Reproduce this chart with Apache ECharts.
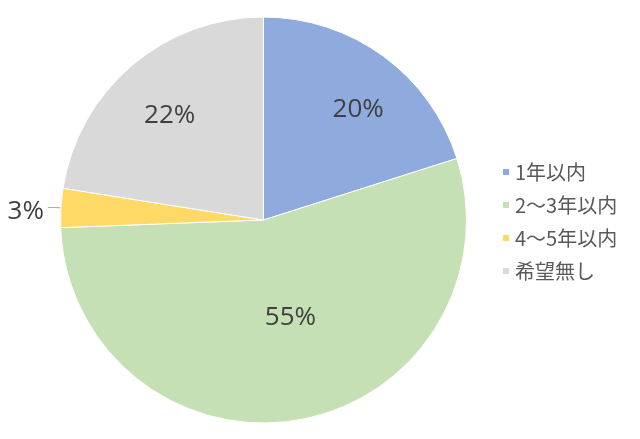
<!DOCTYPE html>
<html>
<head>
<meta charset="utf-8">
<script src="https://cdn.jsdelivr.net/npm/echarts@6/dist/echarts.min.js"></script>
<style>
html,body{margin:0;padding:0;background:#fff;}
#chart{width:640px;height:439px;}
</style>
</head>
<body>
<div id="chart"></div>
<script>
var categories = ['1年以内', '2～3年以内', '4～5年以内', '希望無し'];
var values = [20.1, 54.3, 3.1, 22.5];
var labelTexts = ['20%', '55%', '3%', '22%'];
var colors = ['#8FAADC', '#C5E0B4', '#FFD966', '#D9D9D9'];
var labelOffsets = [[33, -26], [9, -5], [0, 4], [-26, -25]];

var chart = echarts.init(document.getElementById('chart'));
var data = categories.map(function (c, i) {
  var item = { name: c, value: values[i], itemStyle: { color: colors[i] } };
  if (i === 2) {
    item.label = { position: 'outside', distanceToLabelLine: 4 };
    item.labelLine = { show: true, length: 8, length2: 5, lineStyle: { color: '#A6A6A6', width: 1 } };
  }
  return item;
});
chart.setOption({
  animation: false,
  backgroundColor: '#fff',
  legend: {
    orient: 'vertical',
    left: 496,
    top: 157,
    icon: 'rect',
    itemWidth: 8,
    itemHeight: 8,
    itemGap: 13,
    textStyle: { color: '#595959', fontSize: 20, lineHeight: 20, fontFamily: 'Noto Sans CJK JP' },
    data: categories
  },
  series: [{
    type: 'pie',
    center: [263.5, 220],
    radius: [0, 203],
    startAngle: 90,
    clockwise: true,
    avoidLabelOverlap: false,
    itemStyle: { borderColor: '#ffffff', borderWidth: 1 },
    label: {
      show: true,
      position: 'inside',
      formatter: function (p) { return labelTexts[p.dataIndex]; },
      color: '#404040',
      fontSize: 26,
      fontFamily: 'Open Sans'
    },
    labelLine: { show: false },
    labelLayout: function (p) {
      var o = labelOffsets[p.dataIndex];
      return { dx: o[0], dy: o[1] };
    },
    emphasis: { disabled: true },
    data: data
  }]
});
</script>
</body>
</html>
